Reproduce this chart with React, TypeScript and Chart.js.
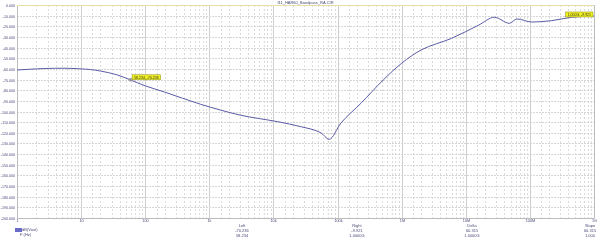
import React, { useEffect, useRef } from "react";
import { Chart, registerables } from "chart.js";

Chart.register(...registerables);

const TITLE = "f11_HAR60_Bandpass_RA.CIR";
const FREQS = [1, 2, 4, 6, 10, 14, 20, 36, 58.234, 100, 200, 730, 3100, 11700, 27000, 55000, 74000, 113000, 234000, 516000, 1e6, 2e6, 6e6, 16e6, 28e6, 48e6, 63e6, 107e6, 219e6, 450e6, 1e9];
const DB = [-61.0, -60.0, -59.4, -59.4, -60.0, -60.6, -62.0, -65.5, -70.236, -75.9, -81.7, -93.2, -103.5, -109.6, -114.3, -120.0, -126.1, -110.8, -92.0, -70.4, -54.7, -42.3, -31.3, -18.8, -11.5, -17.2, -13.1, -16.0, -14.7, -11.5, -10.3];
const X_LABELS = ["1", "10", "100", "1k", "10k", "100k", "1M", "10M", "100M", "1G"];
const MARKERS = [
  { f: 58.234, v: -70.236, text: "58.234, -70.236" },
  { f: 1e9, v: -10.3, text: "1.000G, -9.921" },
];
const CURSOR_HEADS = ["Left", "Right", "Delta", "Slope"];
const CURSOR_VALS = ["-70.236", "-9.921", "60.315", "60.315"];
const CURSOR_FREQS = ["58.234", "1.0000G", "1.0000G", "1.000"];
const LEGEND = "dB(Vout)";
const X_NAME = "F (Hz)";

const LINE = "#5b5ba6";
const TXT = "#4a4a7a";
const FONT = "'Liberation Sans', Arial, sans-serif";

const App = () => {
  const ref = useRef<HTMLCanvasElement>(null);
  useEffect(() => {
    const canvas = ref.current!;
    const overlay = {
      id: "overlay",
      beforeDatasetsDraw(chart: any) {
        const { ctx, chartArea: a, scales } = chart;
        const xs = scales.x, ys = scales.y;
        ctx.save();
        ctx.font = `3.8px ${FONT}`;
        ctx.fillStyle = TXT;
        ctx.textBaseline = "middle";
        ctx.textAlign = "center";
        xs.ticks.forEach((t: any) => {
          const px = Math.round(xs.getPixelForValue(t.value)) + 0.5;
          const lg = Math.log10(t.value);
          const major = Math.abs(lg - Math.round(lg)) < 1e-9;
          ctx.beginPath();
          ctx.lineWidth = 1;
          if (major) { ctx.setLineDash([]); ctx.strokeStyle = "#cfcfcf"; }
          else { ctx.setLineDash([2, 2]); ctx.strokeStyle = "#dcdcdc"; }
          ctx.moveTo(px, a.top);
          ctx.lineTo(px, a.bottom);
          ctx.stroke();
          if (major) {
            const lab = X_LABELS[Math.round(lg)];
            if (lab) ctx.fillText(lab, px, a.bottom + 3);
          }
        });
        ctx.font = `3.6px ${FONT}`;
        ctx.textAlign = "right";
        ys.ticks.forEach((t: any) => {
          const py = Math.round(ys.getPixelForValue(t.value)) + 0.5;
          ctx.beginPath();
          ctx.setLineDash([2, 1]);
          ctx.strokeStyle = "#d6d6d6";
          ctx.moveTo(a.left, py);
          ctx.lineTo(a.right, py);
          ctx.stroke();
          ctx.fillText(Number(t.value).toFixed(3), a.left - 2, py);
        });
        ctx.setLineDash([]);
        ctx.strokeStyle = "#bcbcbc";
        ctx.beginPath();
        ctx.moveTo(a.left + 0.5, a.top);
        ctx.lineTo(a.left + 0.5, a.bottom + 0.5);
        ctx.lineTo(a.right + 0.5, a.bottom + 0.5);
        ctx.lineTo(a.right + 0.5, a.top);
        ctx.stroke();
        ctx.strokeStyle = "#e6e0a8";
        ctx.beginPath();
        ctx.moveTo(a.left, a.top + 0.5);
        ctx.lineTo(a.right, a.top + 0.5);
        ctx.stroke();
        ctx.restore();
      },
      afterDatasetsDraw(chart: any) {
        const { ctx, chartArea: a, scales } = chart;
        ctx.save();
        ctx.font = `4px ${FONT}`;
        ctx.fillStyle = TXT;
        ctx.textAlign = "center";
        ctx.textBaseline = "middle";
        ctx.fillText(TITLE, (a.left + a.right) / 2, 2.5);
        MARKERS.forEach((m, i) => {
          const px = scales.x.getPixelForValue(m.f);
          const py = scales.y.getPixelForValue(m.v);
          ctx.font = `3.5px ${FONT}`;
          const w = ctx.measureText(m.text).width + 4;
          const h = 5;
          let bx = px + 2, by = py - 5;
          if (bx + w > a.right) bx = px - w - 1;
          if (i === 1) by = py - 4;
          ctx.fillStyle = "#f0f020";
          ctx.strokeStyle = "#8a8a20";
          ctx.lineWidth = 0.5;
          ctx.fillRect(bx, by, w, h);
          ctx.strokeRect(bx, by, w, h);
          ctx.fillStyle = "#303030";
          ctx.textAlign = "left";
          ctx.fillText(m.text, bx + 2, by + h / 2 + 0.3);
          if (i === 0) {
            ctx.beginPath();
            ctx.arc(px, py, 1.8, 0, Math.PI * 2);
            ctx.fillStyle = "#9a9a9a";
            ctx.fill();
          }
        });
        ctx.font = `4px ${FONT}`;
        ctx.fillStyle = TXT;
        ctx.textAlign = "center";
        const cx = [242, 357, 472, 590];
        CURSOR_HEADS.forEach((h, i) => {
          ctx.fillText(h, cx[i], 226);
          ctx.fillText(CURSOR_VALS[i], cx[i], 231);
          ctx.fillText(CURSOR_FREQS[i], cx[i], 236);
        });
        ctx.fillStyle = "#6a6ac8";
        ctx.fillRect(15, 228, 7, 4);
        ctx.fillStyle = TXT;
        ctx.textAlign = "left";
        ctx.fillText(LEGEND, 22, 230);
        ctx.fillText(X_NAME, 20, 235);
        ctx.restore();
      },
    };
    const chart = new Chart(canvas, {
      type: "line",
      data: {
        datasets: [
          {
            data: FREQS.map((f, i) => ({ x: f, y: DB[i] })),
            borderColor: LINE,
            borderWidth: 1,
            pointRadius: 0,
            cubicInterpolationMode: "monotone",
            fill: false,
          },
        ],
      },
      options: {
        animation: false,
        responsive: false,
        devicePixelRatio: 1,
        layout: { padding: { top: 5, right: 7, left: 0, bottom: 0 } },
        plugins: { legend: { display: false }, tooltip: { enabled: false } },
        scales: {
          x: {
            type: "logarithmic",
            min: 1,
            max: 1e9,
            afterFit: (s: any) => { s.height = 22; },
            grid: { display: false },
            border: { display: false },
            ticks: { autoSkip: false, display: false },
          },
          y: {
            type: "linear",
            min: -200,
            max: 0,
            afterFit: (s: any) => { s.width = 17; },
            grid: { display: false },
            border: { display: false },
            ticks: { stepSize: 10, display: false },
          },
        },
      },
      plugins: [overlay],
    } as any);
    return () => chart.destroy();
  }, []);
  return (
    <div style={{ position: "fixed", left: 0, top: 0, width: 601, height: 240, background: "#fff" }}>
      <canvas ref={ref} width={601} height={240} style={{ width: 601, height: 240, display: "block" }} />
    </div>
  );
};

export default App;
